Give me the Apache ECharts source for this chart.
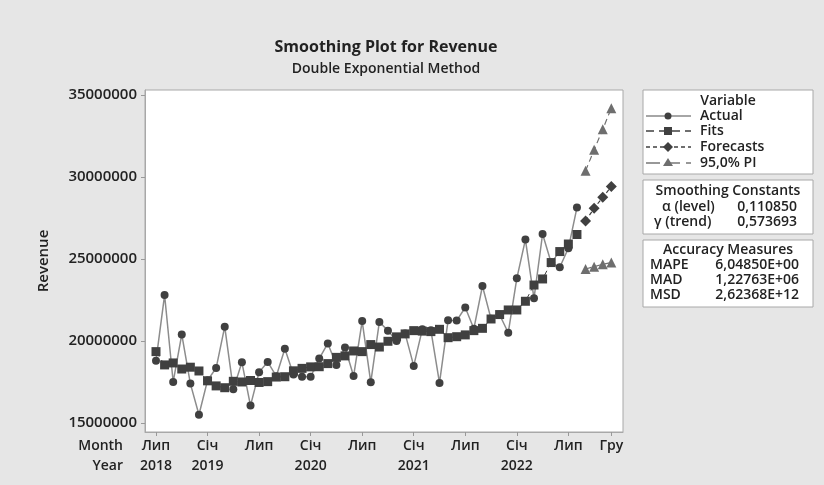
<!DOCTYPE html>
<html>
<head>
    <meta charset="UTF-8">
    <script src="https://cdn.jsdelivr.net/npm/echarts@6.0.0/dist/echarts.min.js"></script>
    <style>
        html, body { margin: 0; padding: 0; background: #e6e6e6; }
        #main { width: 824px; height: 485px; }
    </style>
</head>
<body>
<div id="main"></div>
<script type="text/javascript">
    // months run Jul 2018 (index 0) .. Dec 2022 (index 53)
    var tickIdx = [0, 6, 12, 18, 24, 30, 36, 42, 48, 53];
    var tickMonth = ['Лип', 'Січ', 'Лип', 'Січ', 'Лип', 'Січ', 'Лип', 'Січ', 'Лип', 'Гру'];
    var tickYear = ['2018', '2019', '', '2020', '', '2021', '', '2022', '', ''];
    var yTicks = [15000000, 20000000, 25000000, 30000000, 35000000];

    var actual = [18800000, 22800000, 17500000, 20400000, 17400000, 15500000, 17600000, 18350000, 20870000, 17050000,
        18700000, 16060000, 18100000, 18720000, 17850000, 19530000, 17950000, 17820000, 17820000, 18930000,
        19850000, 18540000, 19600000, 17860000, 21210000, 17480000, 21160000, 20630000, 20000000, 20450000,
        18480000, 20710000, 20650000, 17440000, 21260000, 21240000, 22040000, 20750000, 23350000, 21350000,
        21600000, 20500000, 23820000, 26180000, 22600000, 26520000, 24770000, 24490000, 25650000, 28130000];
    var fits = [19350000, 18540000, 18660000, 18290000, 18400000, 18170000, 17570000, 17260000, 17150000, 17540000,
        17500000, 17590000, 17470000, 17520000, 17800000, 17820000, 18180000, 18330000, 18420000, 18430000,
        18620000, 19000000, 19090000, 19390000, 19350000, 19780000, 19630000, 19980000, 20250000, 20430000,
        20630000, 20600000, 20570000, 20710000, 20200000, 20260000, 20370000, 20630000, 20770000, 21340000,
        21610000, 21890000, 21890000, 22420000, 23410000, 23780000, 24780000, 25450000, 25910000, 26490000];
    var forecastStart = 50;
    var forecasts = [27320000, 28090000, 28760000, 29410000];
    var upperPI = [30370000, 31650000, 32900000, 34190000];
    var lowerPI = [24390000, 24530000, 24680000, 24780000];

    var font = '"Open Sans", "DejaVu Sans", sans-serif';
    var dark = '#404040';
    var frame = '#a8a8a8';

    function withIdx(arr, start) {
        return arr.map(function (v, i) { return [start + i, v]; });
    }

    // legend panels
    var LX = 643, LW = 170, LC = LX + LW / 2;
    function box(y, h) {
        return {type: 'rect', shape: {x: LX, y: y, width: LW, height: h},
            style: {fill: '#fff', stroke: frame, lineWidth: 1}};
    }
    function txt(x, y, s, align) {
        return {type: 'text', x: x, y: y, z: 10,
            style: {text: s, font: '600 14px ' + font, fill: '#222', align: align || 'left', verticalAlign: 'middle'}};
    }
    function sample(y, stroke, dash) {
        return {type: 'line', shape: {x1: LX + 3, y1: y, x2: LX + 48, y2: y}, z: 10,
            style: {stroke: stroke, lineWidth: 1.3, lineDash: dash}};
    }
    var mx = LX + 25;
    var graphics = [
        box(90, 84), box(180, 54), box(240, 67),
        txt(LC, 101, 'Variable', 'center'),
        sample(116, '#888', null),
        {type: 'circle', shape: {cx: mx, cy: 116, r: 3.5}, z: 11, style: {fill: dark}},
        txt(LX + 57, 116, 'Actual'),
        sample(131, dark, [8, 5]),
        {type: 'rect', shape: {x: mx - 4, y: 127, width: 8, height: 8}, z: 11, style: {fill: dark}},
        txt(LX + 57, 131, 'Fits'),
        sample(147, dark, [4, 3]),
        {type: 'polygon', shape: {points: [[mx, 142], [mx + 5, 147], [mx, 152], [mx - 5, 147]]}, z: 11, style: {fill: dark}},
        txt(LX + 57, 147, 'Forecasts'),
        sample(163, '#777', [14, 6]),
        {type: 'polygon', shape: {points: [[mx, 158], [mx + 5, 166], [mx - 5, 166]]}, z: 11, style: {fill: '#6e6e6e'}},
        txt(LX + 57, 163, '95,0% PI'),

        txt(LC, 191, 'Smoothing Constants', 'center'),
        txt(LX + 19, 207, 'α (level)'),
        txt(LX + 154, 207, '0,110850', 'right'),
        txt(LX + 11, 222, 'γ (trend)'),
        txt(LX + 154, 222, '0,573693', 'right'),

        txt(LC, 250, 'Accuracy Measures', 'center'),
        txt(LX + 7, 265, 'MAPE'),
        txt(LX + 156, 265, '6,04850E+00', 'right'),
        txt(LX + 7, 280, 'MAD'),
        txt(LX + 156, 280, '1,22763E+06', 'right'),
        txt(LX + 7, 295, 'MSD'),
        txt(LX + 156, 295, '2,62368E+12', 'right'),

        {type: 'text', x: 123, y: 446, style: {text: 'Month', font: '600 14px ' + font, fill: '#222', align: 'right', verticalAlign: 'middle'}},
        {type: 'text', x: 123, y: 466, style: {text: 'Year', font: '600 14px ' + font, fill: '#222', align: 'right', verticalAlign: 'middle'}}
    ];

    var myChart = echarts.init(document.getElementById('main'));
    var option = {
        backgroundColor: '#e6e6e6',
        animation: false,
        title: [
            {text: 'Smoothing Plot for Revenue', left: 381, top: 34, textAlign: 'center',
                textStyle: {fontFamily: font, fontWeight: 'bold', fontSize: 16, color: '#222'}},
            {text: 'Double Exponential Method', left: 381, top: 57, textAlign: 'center',
                textStyle: {fontFamily: font, fontWeight: 600, fontSize: 14, color: '#222'}}
        ],
        grid: {
            left: 145, right: 201, top: 90, bottom: 53,
            show: true, backgroundColor: '#fff', borderColor: frame, borderWidth: 1
        },
        xAxis: {
            type: 'value', min: -1.28, max: 54.36,
            axisLine: {show: true, onZero: false, lineStyle: {color: frame}},
            splitLine: {show: false},
            axisTick: {show: true, inside: false, customValues: tickIdx, length: 4, lineStyle: {color: '#999'}},
            axisLabel: {
                customValues: tickIdx, margin: 4, lineHeight: 20,
                fontFamily: font, fontWeight: 600, fontSize: 14, color: '#222',
                formatter: function (v) {
                    var k = tickIdx.indexOf(Math.round(v));
                    return tickMonth[k] + '\n' + tickYear[k];
                }
            }
        },
        yAxis: {
            type: 'value', min: 14450000, max: 35300000,
            name: 'Revenue', nameLocation: 'middle', nameGap: 94, nameRotate: 90,
            nameTextStyle: {fontFamily: font, fontWeight: 600, fontSize: 15, color: '#222'},
            axisLine: {show: true, onZero: false, lineStyle: {color: frame}},
            splitLine: {show: false},
            axisTick: {show: true, inside: false, customValues: yTicks, length: 4, lineStyle: {color: '#999'}},
            axisLabel: {
                customValues: yTicks, margin: 8, fontFamily: font, fontWeight: 600, fontSize: 15, color: '#222',
                formatter: function (v) { return String(v); }
            }
        },
        graphic: graphics,
        series: [
            {
                name: 'Actual', type: 'line', data: withIdx(actual, 0), z: 2,
                symbol: 'circle', symbolSize: 8,
                lineStyle: {color: '#8c8c8c', width: 1.5},
                itemStyle: {color: dark}
            },
            {
                name: 'Fits', type: 'line', data: withIdx(fits, 0), z: 3,
                symbol: 'rect', symbolSize: 9,
                lineStyle: {color: dark, width: 1, type: [6, 4]},
                itemStyle: {color: dark}
            },
            {
                name: 'Forecasts', type: 'line', data: withIdx(forecasts, forecastStart), z: 3,
                symbol: 'diamond', symbolSize: 11,
                lineStyle: {color: dark, width: 1.2, type: [4, 3]},
                itemStyle: {color: dark}
            },
            {
                name: 'Upper PI', type: 'line', data: withIdx(upperPI, forecastStart), z: 3,
                symbol: 'triangle', symbolSize: 10,
                lineStyle: {color: '#707070', width: 1.2, type: [6, 4]},
                itemStyle: {color: '#6e6e6e'}
            },
            {
                name: 'Lower PI', type: 'line', data: withIdx(lowerPI, forecastStart), z: 3,
                symbol: 'triangle', symbolSize: 10,
                lineStyle: {color: '#707070', width: 1.2, type: [6, 4]},
                itemStyle: {color: '#6e6e6e'}
            }
        ]
    };
    myChart.setOption(option);
</script>
</body>
</html>
